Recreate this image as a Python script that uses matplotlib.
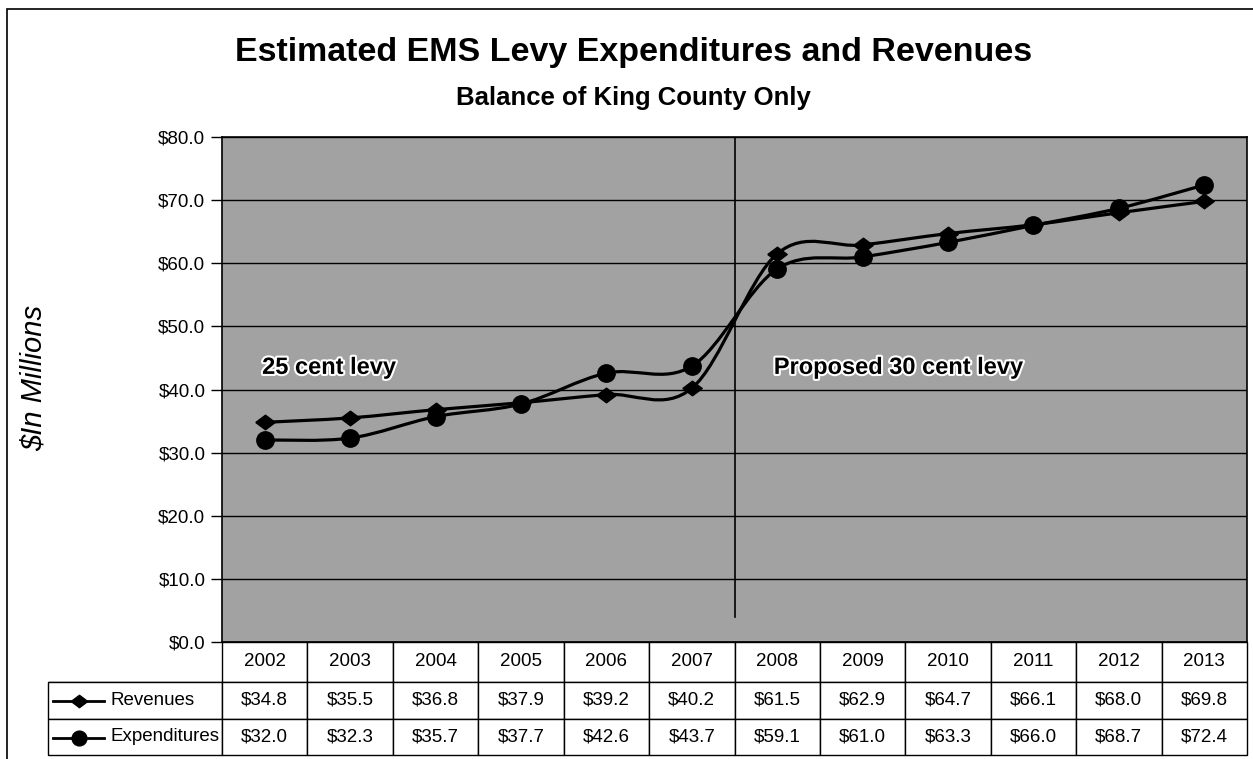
import matplotlib.pyplot as plt
import matplotlib.patheffects as pe
from matplotlib.path import Path
from matplotlib.patches import PathPatch, Rectangle
from matplotlib.lines import Line2D

plt.rcParams['font.family'] = ['Liberation Sans', 'DejaVu Sans']

years = ['2002', '2003', '2004', '2005', '2006', '2007',
         '2008', '2009', '2010', '2011', '2012', '2013']
revenues = [34.8, 35.5, 36.8, 37.9, 39.2, 40.2, 61.5, 62.9, 64.7, 66.1, 68.0, 69.8]
expenditures = [32.0, 32.3, 35.7, 37.7, 42.6, 43.7, 59.1, 61.0, 63.3, 66.0, 68.7, 72.4]
series_names = ['Revenues', 'Expenditures']


def smooth_path(xs, ys):
    # Excel style smoothed line: cubic bezier segments, tangents from neighbours
    pts = list(zip(xs, ys))
    verts = [pts[0]]
    codes = [Path.MOVETO]
    n = len(pts)
    for i in range(n - 1):
        p0 = pts[i - 1] if i > 0 else pts[i]
        p1 = pts[i]
        p2 = pts[i + 1]
        p3 = pts[i + 2] if i + 2 < n else pts[i + 1]
        c1 = (p1[0] + (p2[0] - p0[0]) / 6, p1[1] + (p2[1] - p0[1]) / 6)
        c2 = (p2[0] - (p3[0] - p1[0]) / 6, p2[1] - (p3[1] - p1[1]) / 6)
        verts += [c1, c2, p2]
        codes += [Path.CURVE4] * 3
    return Path(verts, codes)


fig = plt.figure(figsize=(12.53, 7.59), dpi=100)
ax = fig.add_axes([222 / 1253, 1 - 642 / 759, 1025 / 1253, 505 / 759])
ax.set_facecolor('#a2a2a2')

x = list(range(len(years)))
ax.set_xlim(-0.5, len(years) - 0.5)
ax.set_ylim(0, 80)
ax.set_yticks(range(0, 81, 10))
ax.set_yticklabels(['$%.1f' % v for v in range(0, 81, 10)], fontsize=13.5)
ax.set_xticks([])
ax.tick_params(axis='y', length=8, width=1, pad=4)
ax.grid(axis='y', color='black', linewidth=1)
ax.set_axisbelow(True)
for s in ax.spines.values():
    s.set_linewidth(1.2)

diamond = [(-1, 0), (0, 0.75), (1, 0), (0, -0.75), (-1, 0)]

ax.add_patch(PathPatch(smooth_path(x, revenues), fill=False, lw=2.3, color='black', zorder=3))
ax.add_patch(PathPatch(smooth_path(x, expenditures), fill=False, lw=2.3, color='black', zorder=3))
ax.plot(x, revenues, linestyle='none', marker=diamond, ms=14, color='black', zorder=4)
ax.plot(x, expenditures, linestyle='none', marker='o', ms=12.5, color='black', zorder=4)

ax.plot([5.5, 5.5], [4, 80], color='black', lw=1.2, zorder=2)

halo = [pe.withStroke(linewidth=3, foreground='white')]
ax.text(-0.03, 43.5, '25 cent levy', fontsize=17, fontweight='bold', va='center',
        ha='left', path_effects=halo, zorder=5)
ax.text(5.96, 43.5, 'Proposed 30 cent levy', fontsize=17, fontweight='bold', va='center',
        ha='left', path_effects=halo, zorder=5)

ax.set_ylabel('$In Millions', fontsize=21, style='italic', va='center')
ax.yaxis.set_label_coords(-0.184, 0.523)

# data table below the plot
rows = [[''] + years,
        [series_names[0]] + ['$%.1f' % v for v in revenues],
        [series_names[1]] + ['$%.1f' % v for v in expenditures]]
label_w = 174
col_w = 1025 / 12
total_w = label_w + 1025
tbl = ax.table(cellText=rows, cellLoc='center',
               colWidths=[label_w / total_w] + [col_w / total_w] * 12,
               bbox=[-label_w / 1025, -113 / 505, total_w / 1025, 113 / 505])
tbl.auto_set_font_size(False)
tbl.set_fontsize(13.5)
for (r, c), cell in tbl.get_celld().items():
    cell.set_linewidth(1)
    cell.set_facecolor('white')
    if r == 0:
        cell.set_height(40)
    else:
        cell.set_height(36.5)
    if c == 0:
        if r == 0:
            cell.visible_edges = 'B'
        else:
            cell._loc = 'left'
            cell.PAD = 62 / 174
            cell.get_text().set_ha('left')

# legend keys in the table row labels
for yy, mk, ms in [(-0.117, diamond, 14), (-0.19, 'o', 12.5)]:
    ax.add_line(Line2D([-0.165, -0.115], [yy, yy], transform=ax.transAxes, color='black',
                       lw=2, clip_on=False))
    ax.add_line(Line2D([-0.14], [yy], transform=ax.transAxes, color='black', marker=mk,
                       ms=ms * 0.85, linestyle='none', clip_on=False))

fig.text(0.5 * (237 + 1030) / 1253, 1 - 53 / 759, 'Estimated EMS Levy Expenditures and Revenues',
         fontsize=24.5, fontweight='bold', ha='center', va='center')
fig.text(0.5 * (237 + 1030) / 1253, 1 - 98 / 759, 'Balance of King County Only',
         fontsize=18.5, fontweight='bold', ha='center', va='center')

fig.patches.append(Rectangle((7 / 1253, -0.05), 1.2, 1 - 9 / 759 + 0.05, transform=fig.transFigure,
                             fill=False, edgecolor='black', lw=1.2))

fig.savefig('out.png', dpi=100)
